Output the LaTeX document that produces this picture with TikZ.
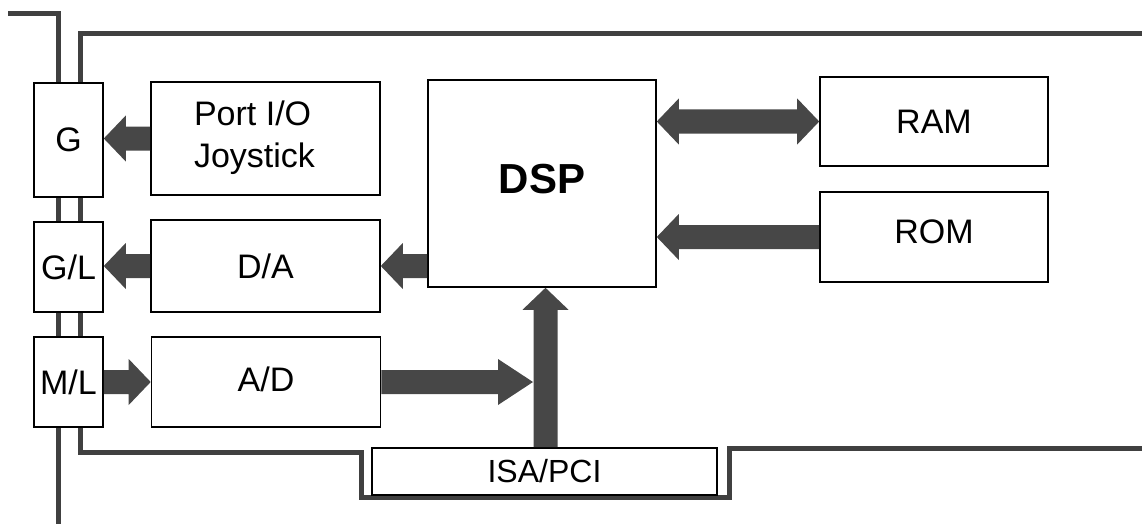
\documentclass[tikz,border=0pt]{standalone}
\usepackage{fontspec}
\setmainfont{Liberation Sans}
\usetikzlibrary{calc}
\tikzset{
  blk/.style={draw=black, line width=1.6pt, fill=white, inner sep=0pt,
    font=\fontsize{34}{42}\selectfont, align=center},
  bus/.style={draw=black!75, line width=5pt, line join=miter, line cap=butt},
  fat/.style={fill=black!72},
}
% fat single arrow from #2 (start) to #3 (tip), head length #1
\newcommand\fatarrow[3][22pt]{%
  \path (#2) coordinate (fa-s) (#3) coordinate (fa-t);
  \path ($(fa-t)!#1!(fa-s)$) coordinate (fa-h);
  \fill[fat] ($(fa-s)!12pt!90:(fa-t)$) -- ($(fa-h)!12pt!90:(fa-t)$)
    -- ($(fa-h)!23pt!90:(fa-t)$) -- (fa-t) -- ($(fa-h)!23pt!-90:(fa-t)$)
    -- ($(fa-h)!12pt!-90:(fa-t)$) -- ($(fa-s)!12pt!-90:(fa-t)$) -- cycle;}
% fat double arrow between #1 and #2
\newcommand\fatdarrow[2]{%
  \path (#1) coordinate (fa-s) (#2) coordinate (fa-t);
  \path ($(fa-t)!22pt!(fa-s)$) coordinate (fa-h) ($(fa-s)!22pt!(fa-t)$) coordinate (fa-g);
  \fill[fat] (fa-s) -- ($(fa-g)!23pt!90:(fa-t)$) -- ($(fa-g)!12pt!90:(fa-t)$)
    -- ($(fa-h)!12pt!90:(fa-t)$) -- ($(fa-h)!23pt!90:(fa-t)$) -- (fa-t)
    -- ($(fa-h)!23pt!-90:(fa-t)$) -- ($(fa-h)!12pt!-90:(fa-t)$)
    -- ($(fa-g)!12pt!-90:(fa-t)$) -- ($(fa-g)!23pt!-90:(fa-t)$) -- cycle;}
\begin{document}
\begin{tikzpicture}[x=1pt,y=-1pt]
\useasboundingbox (0,0) rectangle (1142,524);
% bus lines
\coordinate (o1) at (8,14);
\coordinate (o2) at (58,14);
\coordinate (o3) at (58,524);
\draw[bus] (o1) -- (o2) -- (o3);
\coordinate (i1) at (1142,34);
\coordinate (i2) at (80,34);
\coordinate (i3) at (80,452);
\coordinate (i4) at (361,452);
\coordinate (i5) at (361,497);
\coordinate (i6) at (729,497);
\coordinate (i7) at (729,448);
\coordinate (i8) at (1142,448);
\draw[bus] (i1) -- (i2) -- (i3) -- (i4) -- (i5) -- (i6) -- (i7) -- (i8);
% connector boxes
\node[blk, minimum width=69pt, minimum height=114pt] (g)  at (68.5,140) {G};
\node[blk, minimum width=69pt, minimum height=90pt]  (gl) at (68.5,267) {G/L};
\node[blk, minimum width=69pt, minimum height=90pt]  (ml) at (68.5,382) {M/L};
% function blocks
\node[blk, minimum width=229pt, minimum height=113pt] (pio) at (265.5,138.5) {\hspace*{-22pt}\begin{tabular}{@{}l@{}}Port I/O\\Joystick\end{tabular}};
\node[blk, minimum width=229pt, minimum height=92pt] (da) at (265.5,266) {D/A};
\node[blk, minimum width=229pt, minimum height=90pt] (ad) at (266,382) {\raisebox{6pt}{A/D}};
\node[blk, minimum width=228pt, minimum height=207pt, font=\fontsize{42}{50}\bfseries\selectfont] (dsp) at (542,183.5) {\raisebox{10pt}{DSP}};
\node[blk, minimum width=228pt, minimum height=89pt] (ram) at (934,121.5) {RAM};
\node[blk, minimum width=228pt, minimum height=90pt] (rom) at (934,237) {\raisebox{10pt}{ROM}};
\node[blk, minimum width=345pt, minimum height=47pt, font=\fontsize{32}{36}\selectfont] (isa) at (544.5,471.5) {ISA/PCI};
% arrows
\fatarrow{pio.west}{g.east |- pio.west}
\fatarrow{da.west}{gl.east |- da.west}
\fatarrow{ml.east}{ad.west |- ml.east}
\coordinate (dspda) at (dsp.west |- da.east);
\fatarrow{dspda}{da.east}
\coordinate (romin) at (dsp.east |- rom.west);
\fatarrow{rom.west}{romin}
\coordinate (ramin) at (dsp.east |- ram.west);
\fatdarrow{ramin}{ram.west}
\coordinate (isatop) at ([xshift=1pt]isa.north);
\coordinate (dspbot) at (isatop |- dsp.south);
\fatarrow{isatop}{dspbot}
\coordinate (junc) at ([xshift=-12.5pt]isatop |- ad.east);
\fatarrow[35pt]{ad.east}{junc}
\end{tikzpicture}
\end{document}
